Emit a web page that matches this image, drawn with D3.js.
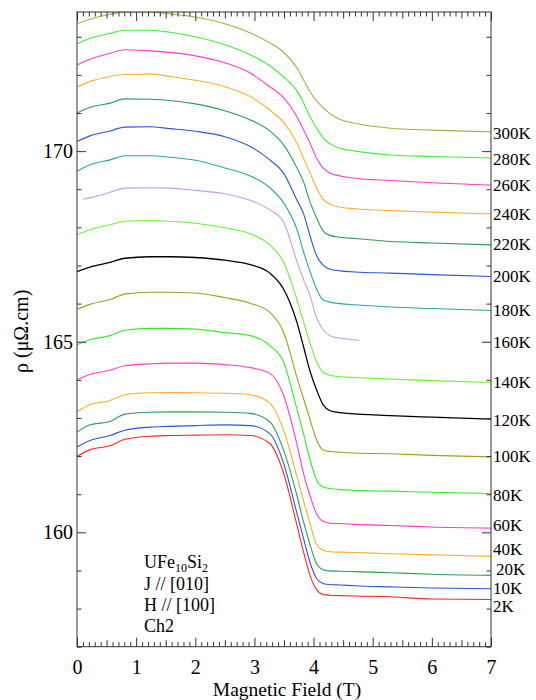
<!DOCTYPE html>
<html><head><meta charset="utf-8">
<script src="https://cdn.jsdelivr.net/npm/d3@7"></script>
<style>body{margin:0;background:#fff}svg{display:block}
text{font-family:"Liberation Serif","Tinos","Times New Roman","DejaVu Serif",serif;}</style>
</head><body>
<svg id="chart" width="536" height="700"></svg>
<script>
// ---- data ----
const fields = [0,0.22,0.56,0.81,1.23,1.57,2.0,2.5,2.93,3.26,3.49,3.72,3.83,3.94,4.05,4.16,4.28,4.45,4.7,5.3,6.0,7.0];
const fields160 = [0.1,0.22,0.56,0.81,1.23,1.57,2.0,2.5,2.93,3.26,3.49,3.72,3.83,3.94,4.05,4.16,4.28,4.45,4.77];
const temps = ["300K","280K","260K","240K","220K","200K","180K","160K","140K","120K","100K","80K","60K","40K","20K","10K","2K"];
const colors = ["#b3a845","#3cef3c","#ff3ccc","#ffad30","#2e9e57","#2a55dd","#25a7a7","#c59cf0","#66f533","#000000","#a69d1c","#33ee22","#ff3ccc","#ffad30","#2e9e57","#2a55dd","#ff2525"];
const rho300 = [173.34,173.46,173.59,173.65,173.65,173.60,173.52,173.34,173.10,172.84,172.60,172.18,171.87,171.56,171.32,171.14,170.98,170.83,170.73,170.60,170.55,170.51];
const rho280 = [172.81,172.96,173.09,173.17,173.17,173.12,173.00,172.79,172.53,172.24,171.95,171.58,171.27,170.90,170.61,170.35,170.19,170.07,170.00,169.90,169.86,169.82];
const rho260 = [172.26,172.41,172.57,172.66,172.63,172.59,172.50,172.32,172.05,171.69,171.41,170.90,170.56,170.21,169.82,169.56,169.42,169.35,169.29,169.23,169.17,169.11];
const rho240 = [171.68,171.83,171.96,172.01,172.02,171.96,171.86,171.69,171.43,171.08,170.76,170.21,169.82,169.43,169.04,168.74,168.61,168.53,168.49,168.44,168.40,168.35];
const rho220 = [171.00,171.15,171.26,171.37,171.36,171.33,171.24,171.06,170.82,170.53,170.17,169.56,169.20,168.67,168.25,167.91,167.79,167.74,167.71,167.63,167.59,167.54];
const rho200 = [170.25,170.40,170.53,170.63,170.64,170.59,170.52,170.38,170.12,169.77,169.43,168.71,168.36,167.78,167.26,167.01,166.90,166.86,166.83,166.80,166.76,166.71];
const rho180 = [169.47,169.64,169.77,169.88,169.88,169.84,169.76,169.56,169.35,169.04,168.65,167.94,167.36,166.84,166.39,166.10,166.04,166.00,165.97,165.91,165.87,165.82];
const rho160 = [168.74,168.78,168.92,169.03,169.04,169.03,168.97,168.88,168.71,168.46,168.15,167.10,166.63,166.21,165.63,165.32,165.16,165.09,165.04];
const rho140 = [167.81,167.94,168.07,168.16,168.18,168.16,168.11,167.99,167.83,167.54,167.10,166.10,165.52,164.97,164.48,164.20,164.12,164.08,164.06,164.02,163.98,163.93];
const rho120 = [166.84,166.96,167.08,167.19,167.23,167.23,167.21,167.14,167.02,166.80,166.39,165.50,164.87,164.23,163.74,163.35,163.19,163.14,163.11,163.06,163.02,162.97];
const rho100 = [165.85,165.98,166.11,166.25,166.30,166.30,166.28,166.16,166.01,165.77,165.26,164.06,163.51,162.96,162.43,162.16,162.12,162.10,162.08,162.06,162.02,161.98];
const rho80  = [164.92,165.05,165.16,165.30,165.35,165.35,165.33,165.24,165.16,164.90,164.48,163.22,162.59,161.91,161.38,161.19,161.15,161.12,161.10,161.08,161.05,161.02];
const rho60  = [164.00,164.14,164.25,164.37,164.42,164.44,164.44,164.40,164.32,164.17,163.61,162.30,161.54,160.96,160.49,160.29,160.24,160.23,160.21,160.18,160.14,160.11];
const rho40  = [163.17,163.35,163.46,163.61,163.66,163.67,163.66,163.65,163.61,163.39,162.69,161.46,160.83,160.23,159.68,159.53,159.49,159.48,159.47,159.44,159.41,159.37];
const rho20  = [162.63,162.82,162.91,163.10,163.15,163.16,163.16,163.15,163.12,162.90,162.17,160.96,160.28,159.68,159.18,159.02,158.99,158.98,158.97,158.94,158.90,158.87];
const rho10  = [162.24,162.41,162.54,162.68,162.76,162.78,162.80,162.82,162.80,162.59,161.83,160.49,159.84,159.21,158.79,158.66,158.63,158.62,158.60,158.57,158.54,158.52];
const rho2   = [161.99,162.17,162.27,162.44,162.52,162.54,162.55,162.56,162.54,162.33,161.57,160.18,159.49,158.87,158.50,158.37,158.35,158.34,158.33,158.31,158.25,158.24];
const labelRho = [170.47,169.79,169.12,168.35,167.57,166.73,165.84,164.98,163.93,162.94,162.01,160.99,160.18,159.55,159.04,158.54,158.06];
const xTicks = [0,1,2,3,4,5,6,7];
const yTicks = [160,165,170];
const notes = ["J // [010]","H // [100]","Ch2"];

const seriesRho = [rho300,rho280,rho260,rho240,rho220,rho200,rho180,rho160,rho140,rho120,rho100,rho80,rho60,rho40,rho20,rho10,rho2];

// ---- layout ----
const L = 77, R = 491, T = 12, B = 646.7;
const svg = d3.select("#chart");
const x = d3.scaleLinear().domain([0,7]).range([L,R]);
const y = d3.scaleLinear().domain([157,173.65]).range([B,T]);

svg.append("defs").append("clipPath").attr("id","clip")
  .append("rect").attr("x",L).attr("y",T).attr("width",R-L).attr("height",B-T);

// curves
const line = d3.line().x(d=>x(d[0])).y(d=>y(d[1])).curve(d3.curveMonotoneX);
const gLines = svg.append("g").attr("clip-path","url(#clip)");
seriesRho.forEach((rho,i)=>{
  const fx = temps[i]==="160K" ? fields160 : fields;
  const pts = fx.map((f,j)=>[f,rho[j]]);
  gLines.append("path").datum(pts)
    .attr("d",line).attr("fill","none")
    .attr("stroke",colors[i])
    .attr("stroke-width", temps[i]==="120K" ? 1.3 : 1.1)
    .attr("stroke-linejoin","round");
});

// axes helpers
function styleAxis(g, noText){
  g.select(".domain").remove();
  g.selectAll(".tick line").attr("stroke","#333").attr("stroke-width",1);
  g.attr("font-family",null);
  g.selectAll("text").attr("font-size",20).attr("fill","#000");
  if(noText) g.selectAll("text").remove();
}
const minorY = d3.range(157,174).filter(v=>!yTicks.includes(v));
const minorX = d3.range(0,71).map(v=>v/10).filter(v=>Math.abs(v-Math.round(v))>1e-6 && Math.abs(v*2-Math.round(v*2))>1e-6);
const midX = d3.range(0,7).map(v=>v+0.5);

// left
svg.append("g").attr("transform",`translate(${L},0)`)
  .call(d3.axisLeft(y).tickValues(yTicks).tickSize(-9).tickPadding(4).tickFormat(d3.format("d")))
  .call(g=>styleAxis(g,false));
svg.append("g").attr("transform",`translate(${L},0)`)
  .call(d3.axisLeft(y).tickValues(minorY).tickSize(-4.5))
  .call(g=>styleAxis(g,true));
// right
svg.append("g").attr("transform",`translate(${R},0)`)
  .call(d3.axisRight(y).tickValues(yTicks).tickSize(-9))
  .call(g=>styleAxis(g,true));
svg.append("g").attr("transform",`translate(${R},0)`)
  .call(d3.axisRight(y).tickValues(minorY).tickSize(-4.5))
  .call(g=>styleAxis(g,true));
// bottom
svg.append("g").attr("transform",`translate(0,${B})`)
  .call(d3.axisBottom(x).tickValues(xTicks).tickSize(-9).tickPadding(13).tickFormat(d3.format("d")))
  .call(g=>styleAxis(g,false));
svg.append("g").attr("transform",`translate(0,${B})`)
  .call(d3.axisBottom(x).tickValues(midX).tickSize(-6.5)).call(g=>styleAxis(g,true));
svg.append("g").attr("transform",`translate(0,${B})`)
  .call(d3.axisBottom(x).tickValues(minorX).tickSize(-4.5)).call(g=>styleAxis(g,true));
// top
svg.append("g").attr("transform",`translate(0,${T})`)
  .call(d3.axisTop(x).tickValues(xTicks).tickSize(-9)).call(g=>styleAxis(g,true));
svg.append("g").attr("transform",`translate(0,${T})`)
  .call(d3.axisTop(x).tickValues(midX).tickSize(-6.5)).call(g=>styleAxis(g,true));
svg.append("g").attr("transform",`translate(0,${T})`)
  .call(d3.axisTop(x).tickValues(minorX).tickSize(-4.5)).call(g=>styleAxis(g,true));

// frame
svg.append("rect").attr("x",L).attr("y",T).attr("width",R-L).attr("height",B-T)
  .attr("fill","none").attr("stroke","#333").attr("stroke-width",1);

// axis titles
svg.append("text").attr("x",(L+R)/2+3).attr("y",695.5).attr("text-anchor","middle")
  .attr("font-size",19.5).text("Magnetic Field (T)");
svg.append("text").attr("transform",`translate(28,${(T+B)/2+2}) rotate(-90)`)
  .attr("text-anchor","middle").attr("font-size",20)
  .text("ρ (μΩ.cm)");

// temperature labels
svg.append("g").selectAll("text").data(temps).join("text")
  .attr("x",(d)=> d==="20K" ? R+5 : R+2)
  .attr("y",(d,i)=>y(labelRho[i]))
  .attr("dy","0.35em")
  .attr("font-size",17).attr("fill","#000")
  .text(d=>d);

// annotation
const ann = svg.append("text").attr("x",144).attr("y",568).attr("font-size",18);
ann.append("tspan").text("UFe");
ann.append("tspan").attr("font-size",12).attr("dy",4).text("10");
ann.append("tspan").attr("dy",-4).text("Si");
ann.append("tspan").attr("font-size",12).attr("dy",4).text("2");
svg.append("g").selectAll("text").data(notes).join("text")
  .attr("x",144).attr("y",(d,i)=>590+i*21)
  .attr("font-size",18).text(d=>d);
</script>
</body></html>
